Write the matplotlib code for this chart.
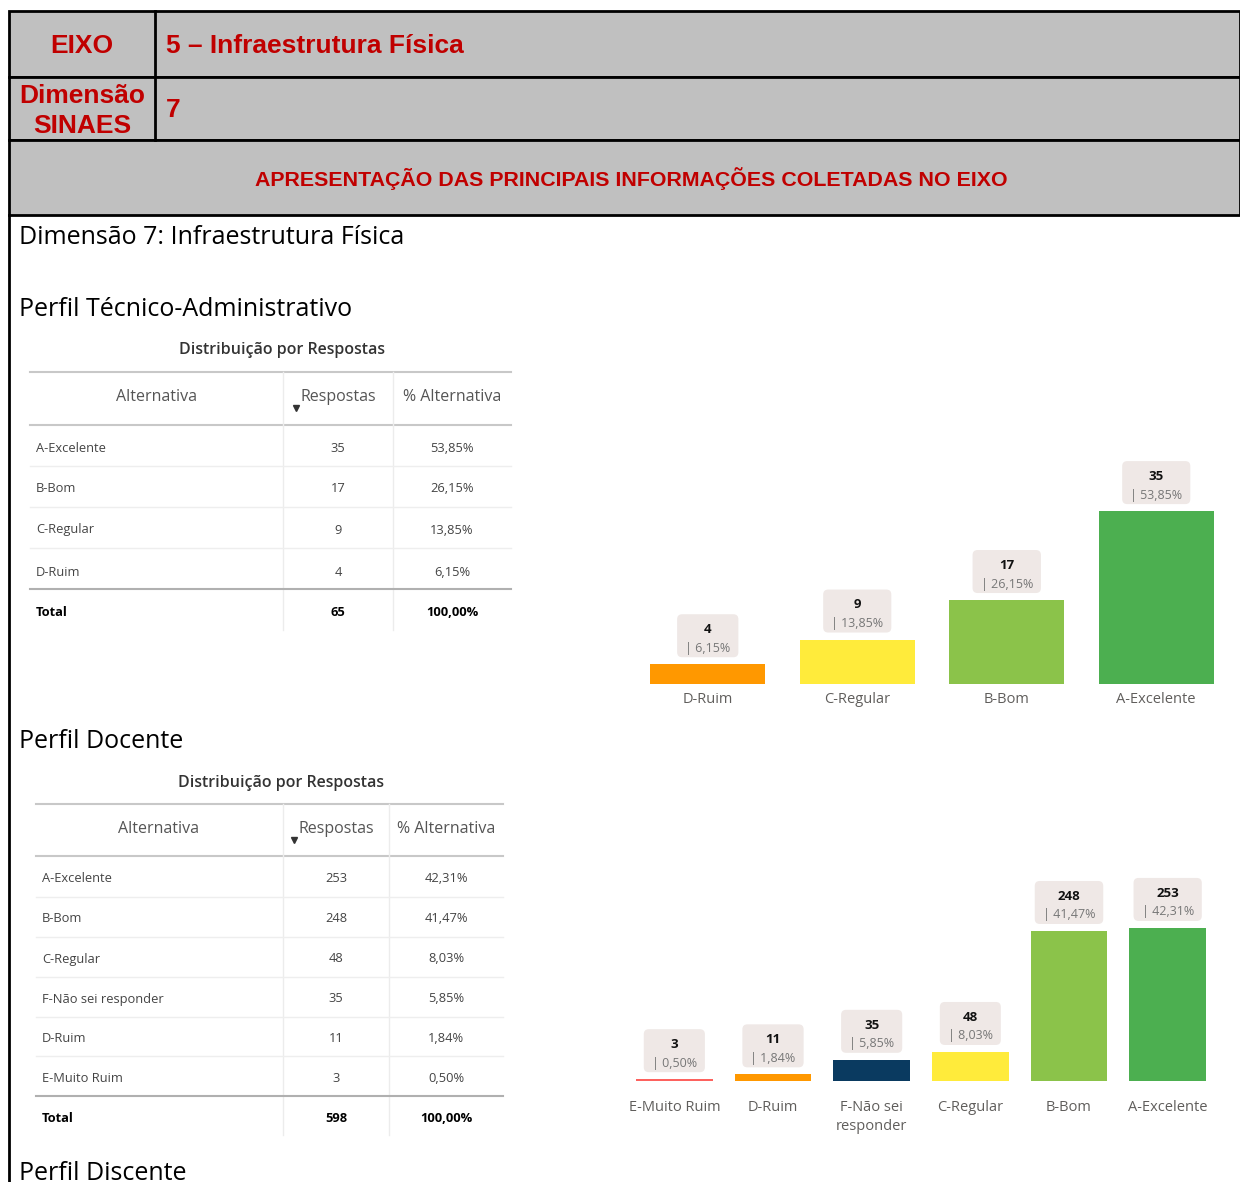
import matplotlib.pyplot as plt
from matplotlib.patches import Rectangle, FancyBboxPatch
from matplotlib.transforms import IdentityTransform
import numpy as np

# ---- data ----
tec_alternativas = ["A-Excelente", "B-Bom", "C-Regular", "D-Ruim"]
tec_respostas = [35, 17, 9, 4]
tec_pct = ["53,85%", "26,15%", "13,85%", "6,15%"]
tec_total = ["65", "100,00%"]

doc_alternativas = ["A-Excelente", "B-Bom", "C-Regular", "F-Não sei responder", "D-Ruim", "E-Muito Ruim"]
doc_respostas = [253, 248, 48, 35, 11, 3]
doc_pct = ["42,31%", "41,47%", "8,03%", "5,85%", "1,84%", "0,50%"]
doc_total = ["598", "100,00%"]

# bar chart order (ascending)
tec_bar_labels = ["D-Ruim", "C-Regular", "B-Bom", "A-Excelente"]
tec_bar_values = [4, 9, 17, 35]
tec_bar_pct = ["6,15%", "13,85%", "26,15%", "53,85%"]
tec_bar_colors = ["#ff9800", "#ffeb3b", "#8bc34a", "#4caf50"]

doc_bar_labels = ["E-Muito Ruim", "D-Ruim", "F-Não sei\nresponder", "C-Regular", "B-Bom", "A-Excelente"]
doc_bar_values = [3, 11, 35, 48, 248, 253]
doc_bar_pct = ["0,50%", "1,84%", "5,85%", "8,03%", "41,47%", "42,31%"]
doc_bar_colors = ["#fd625e", "#ff9800", "#0a3a60", "#ffeb3b", "#8bc34a", "#4caf50"]

W, H = 1240, 1182
RED = "#c00000"
DOCFONT = "Open Sans"
PBI = "Open Sans"
DY = 2  # small vertical nudge for text centring

fig = plt.figure(figsize=(W / 100, H / 100), dpi=100)
page = fig.add_axes([0, 0, 1, 1])
page.set_xlim(0, W)
page.set_ylim(H, 0)
page.axis("off")

# ---- header table ----
rows = [(11, 77), (77, 140), (140, 215)]
for y0, y1 in rows:
    page.add_patch(Rectangle((9, y0), W - 9, y1 - y0, facecolor="#c0c0c0",
                             edgecolor="black", lw=2))
page.plot([155, 155], [11, 140], color="black", lw=2)
page.plot([9, 9], [215, H], color="black", lw=2)

hfont = dict(family="Liberation Sans", weight="bold", color=RED)
page.text(82, 46, "EIXO", ha="center", va="center", fontsize=19, **hfont)
page.text(166, 46, "5 – Infraestrutura Física", ha="left", va="center", fontsize=19, **hfont)
page.text(82, 111, "Dimensão\nSINAES", ha="center", va="center", fontsize=19,
          linespacing=1.3, **hfont)
page.text(166, 110, "7", ha="left", va="center", fontsize=19, **hfont)
page.text(631, 179, "APRESENTAÇÃO DAS PRINCIPAIS INFORMAÇÕES COLETADAS NO EIXO",
          ha="center", va="center", fontsize=15.4, **hfont)

for y, s in [(236, "Dimensão 7: Infraestrutura Física"), (308, "Perfil Técnico-Administrativo"),
             (740, "Perfil Docente"), (1171, "Perfil Discente")]:
    page.text(19, y + DY, s, ha="left", va="center", fontsize=18, family=DOCFONT, color="black")


def draw_table(title_cx, title_y, x0, x1, xa, xb, top, head_bot, row_ys, sep_ys, dark_y, total_y,
               alts, resp, pct, total, label_x, alt_cx, resp_cx, pct_cx, arrow_x, bottom):
    page.text(title_cx, title_y + DY, "Distribuição por Respostas", ha="center", va="center",
              fontsize=11.5, family=PBI, weight="semibold", color="#333333")
    page.plot([x0, x1], [top, top], color="#c8c8c8", lw=1.5)
    page.plot([x0, x1], [head_bot, head_bot], color="#c8c8c8", lw=1.5)
    page.plot([xa, xa], [top, bottom], color="#ececec", lw=1)
    page.plot([xb, xb], [top, bottom], color="#ececec", lw=1)
    hy = top + (head_bot - top) * 0.44 + DY
    page.text(alt_cx, hy, "Alternativa", ha="center", va="center", fontsize=11.5,
              family=PBI, color="#555555")
    page.text(resp_cx, hy, "Respostas", ha="center", va="center", fontsize=11.5,
              family=PBI, color="#555555")
    page.text(pct_cx, hy, "% Alternativa", ha="center", va="center", fontsize=11.5,
              family=PBI, color="#555555")
    page.plot([arrow_x], [hy + 11], marker="v", color="#333333", markersize=5)
    for y in sep_ys:
        page.plot([x0, x1], [y, y], color="#eeeeee", lw=1)
    page.plot([x0, x1], [dark_y, dark_y], color="#b0b0b0", lw=1.5)
    for y, a, r, p in zip(row_ys, alts, resp, pct):
        y = y + DY
        page.text(label_x, y, a, ha="left", va="center", fontsize=9.3, family=PBI, color="#444444")
        page.text(resp_cx, y, str(r), ha="center", va="center", fontsize=9.3, family=PBI, color="#444444")
        page.text(pct_cx, y, p, ha="center", va="center", fontsize=9.3, family=PBI, color="#444444")
    for cx, s, ha in [(label_x, "Total", "left"), (resp_cx, total[0], "center"),
                      (pct_cx, total[1], "center")]:
        page.text(cx, total_y + DY, s, ha=ha, va="center", fontsize=9.3, family=PBI,
                  weight="bold", color="black")


draw_table(282, 348, 30, 511, 283, 393, 372, 425, [447, 487, 528, 570], [466, 507, 548], 589, 611,
           tec_alternativas, tec_respostas, tec_pct, tec_total, 36, 156, 338, 452, 296, 630)
draw_table(281, 781, 36, 503, 283, 389, 804, 856, [877, 917, 957, 997, 1037, 1076],
           [897, 937, 977, 1017, 1056], 1096, 1117,
           doc_alternativas, doc_respostas, doc_pct, doc_total, 42, 159, 336, 446, 294, 1135)

label_items = []


def bar_chart(rect_px, labels, values, pcts, colors, ymax, width, pad):
    left, top, right, bottom = rect_px
    ax = fig.add_axes([left / W, 1 - bottom / H, (right - left) / W, (bottom - top) / H])
    x = np.arange(len(values))
    ax.bar(x, values, width=width, color=colors)
    ax.set_xlim(-0.5, len(values) - 0.5)
    ax.set_ylim(0, ymax)
    ax.set_xticks(x)
    ax.set_xticklabels(labels, fontsize=10.5, family=PBI, color="#605e5c", linespacing=1.35)
    ax.tick_params(axis="x", length=0, pad=pad)
    ax.set_yticks([])
    for s in ax.spines.values():
        s.set_visible(False)
    for xi, v, p in zip(x, values, pcts):
        ax.annotate(str(v), xy=(xi, v), xytext=(0, 25.0), textcoords="offset points",
                    ha="center", va="center", fontsize=9.5, family=PBI, weight="bold",
                    color="#111111", zorder=5)
        tp = ax.annotate(f"| {p}", xy=(xi, v), xytext=(0, 11.5), textcoords="offset points",
                         ha="center", va="center", fontsize=9, family=PBI, color="#777777",
                         zorder=5)
        label_items.append((ax, xi, v, tp))
    return ax


bar_chart((633, 450, 1231, 684), tec_bar_labels, tec_bar_values, tec_bar_pct,
          tec_bar_colors, 234 / 4.94, 0.77, 6)
bar_chart((625, 860, 1217, 1081), doc_bar_labels, doc_bar_values, doc_bar_pct,
          doc_bar_colors, 221 / 0.605, 0.78, 14)

# rounded label boxes sized from the rendered percentage text
fig.canvas.draw()
renderer = fig.canvas.get_renderer()
for ax, xi, v, tp in label_items:
    bb = tp.get_window_extent(renderer)
    _, ytop = ax.transData.transform((xi, v))
    box = FancyBboxPatch((bb.x0 - 8, ytop + 7), bb.width + 16, 43,
                         boxstyle="round,pad=0,rounding_size=5", facecolor="#efe8e6",
                         edgecolor="none", transform=IdentityTransform(), clip_on=False,
                         zorder=4)
    ax.add_patch(box)

fig.savefig("out.png", dpi=100)
